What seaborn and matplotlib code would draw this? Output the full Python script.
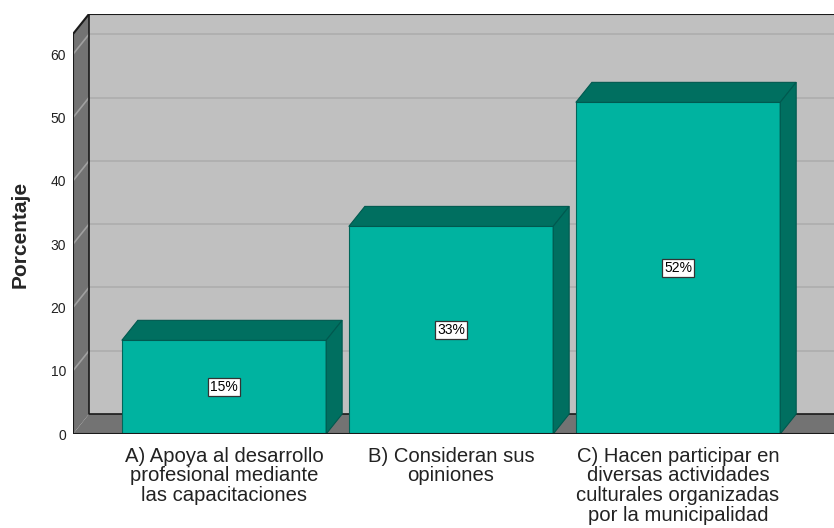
import numpy as np
import pandas as pd
import seaborn as sns
import matplotlib.pyplot as plt
from matplotlib.patches import Polygon

# --- datos ---
categorias = ["A) Apoya al desarrollo\nprofesional mediante\nlas capacitaciones",
              "B) Consideran sus\nopiniones",
              "C) Hacen participar en\ndiversas actividades\nculturales organizadas\npor la municipalidad"]
porcentajes = [14.8, 32.8, 52.4]
etiquetas = ["15%", "33%", "52%"]
yticks = [0, 10, 20, 30, 40, 50, 60]

df = pd.DataFrame({"cat": categorias, "pct": porcentajes})

sns.set_style("white")
plt.rcParams['font.family'] = ['Liberation Sans', 'DejaVu Sans']

frente = "#00B3A0"
oscuro = "#006F60"
pared = "#C0C0C0"
lado = "#737373"

fig = plt.figure(figsize=(8.34, 5.28), dpi=100)
ax = fig.add_axes([73 / 834, 94 / 528, 761 / 834, 420 / 528])

# profundidad del efecto 3D (en unidades de datos)
dx = 16 / 227
dy = 20 / 6.33
xl, xr = -0.665, 2.687
ytop = 63.2

# paredes y piso
ax.add_patch(Polygon([(xl + dx, dy), (xr + 1, dy), (xr + 1, ytop + dy), (xl + dx, ytop + dy)],
                     closed=True, facecolor=pared, edgecolor="none", zorder=0))
ax.add_patch(Polygon([(xl, 0), (xl, ytop), (xl + dx, ytop + dy), (xl + dx, dy)],
                     closed=True, facecolor=lado, edgecolor="none", zorder=0.5))
ax.add_patch(Polygon([(xl, 0), (xr + 1, 0), (xr + 1 + dx, dy), (xl + dx, dy)],
                     closed=True, facecolor=lado, edgecolor="none", zorder=0.5))

for v in yticks[1:]:
    ax.plot([xl + dx, xr + 1], [v + dy, v + dy], color="#ADADAD", lw=1.2, zorder=1)
    ax.plot([xl, xl + dx], [v, v + dy], color="#A0A0A0", lw=1.2, zorder=1)

# bordes
ax.plot([xl, xl, xl + dx, xr + 1], [0, ytop, ytop + dy, ytop + dy], color="#1A1A1A", lw=1.5, zorder=2)
ax.plot([xl + dx, xl + dx, xr + 1], [ytop + dy, dy, dy], color="#1A1A1A", lw=1.2, zorder=1.5)
ax.plot([xl, xr + 1], [0, 0], color="#1A1A1A", lw=1.5, zorder=5)

# barras
sns.barplot(data=df, x="cat", y="pct", color=frente, saturation=1, width=0.9,
            edgecolor="#00665A", linewidth=0.8, ax=ax, zorder=3)

for i, h in enumerate(porcentajes):
    x0, x1 = i - 0.45, i + 0.45
    ax.add_patch(Polygon([(x0, h), (x0 + dx, h + dy), (x1 + dx, h + dy), (x1, h)],
                         closed=True, facecolor=oscuro, edgecolor="#00594F", lw=0.8, zorder=3.5))
    ax.add_patch(Polygon([(x1, 0), (x1, h), (x1 + dx, h + dy), (x1 + dx, dy)],
                         closed=True, facecolor=oscuro, edgecolor="#00594F", lw=0.8, zorder=3.5))
    ax.text(i, h / 2, etiquetas[i], ha="center", va="center", fontsize=10, color="black", zorder=6,
            bbox=dict(boxstyle="square,pad=0.15", facecolor="white", edgecolor="#333333", lw=0.9))

ax.set_xlim(xl, xr)
ax.set_ylim(0, ytop + dy)
for s in ax.spines.values():
    s.set_visible(False)

ax.set_yticks(yticks)
ax.set_yticklabels([str(t) for t in yticks], fontsize=10, color="#222222")
ax.set_xticks(range(len(categorias)))
ax.set_xticklabels(categorias, fontsize=14.6, color="#222222", linespacing=1.05)
ax.tick_params(axis="y", length=0, pad=5)
ax.tick_params(axis="x", length=0, pad=9)
ax.set_xlabel("")
ax.set_ylabel("Porcentaje", fontsize=15, fontweight="bold")
ax.yaxis.set_label_coords(-(73 - 30) / 761, (434 - 234) / 420)

fig.savefig("out.png", dpi=100)
